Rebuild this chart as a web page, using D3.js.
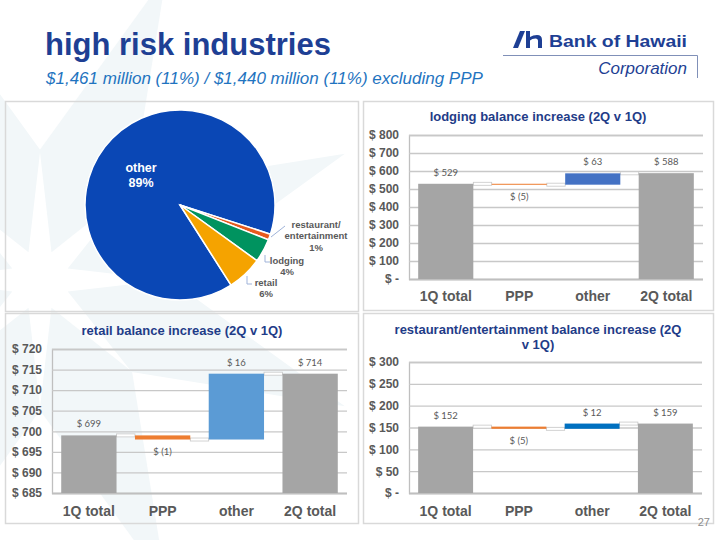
<!DOCTYPE html>
<html>
<head>
<meta charset="utf-8">
<script src="https://cdn.jsdelivr.net/npm/d3@7"></script>
<style>
html,body{margin:0;padding:0;background:#fff;}
svg{display:block;font-family:"Liberation Sans",Arial,sans-serif;}
</style>
</head>
<body>
<svg id="chart" width="720" height="540"></svg>
<script>
// ---------------- data ----------------
const pieCategories = ["other", "restaurant/entertainment", "lodging", "retail"];
const piePercents = [89, 1, 4, 6];
const pieColors = ["#0A47B5", "#E65A1E", "#00935F", "#F5A300"];

const stepCategories = ["1Q total", "PPP", "other", "2Q total"];
const lodgingValues = [529, -5, 63, 588];
const retailValues = [699, -1, 16, 714];
const restaurantValues = [152, -5, 12, 159];

const lodgingTicks = [0, 100, 200, 300, 400, 500, 600, 700, 800];
const retailTicks = [685, 690, 695, 700, 705, 710, 715, 720];
const restaurantTicks = [0, 50, 100, 150, 200, 250, 300];

const titleText = "high risk industries";
const subtitleText = "$1,461 million (11%) / $1,440 million (11%) excluding PPP";

// ---------------- page ----------------
const svg = d3.select("#chart");
const GRAY = "#595959";

// very faint watermark star
const wm = svg.append("g").attr("fill", "#F2F7F9");
const wc = [40, 280];
d3.range(8).forEach(i => {
  const a = i * Math.PI / 4 + Math.PI / 8;
  const L = 330, W = 50, m = 120;
  const tip = [wc[0] + L * Math.sin(a), wc[1] - L * Math.cos(a)];
  const base = [wc[0] + 30 * Math.sin(a), wc[1] - 30 * Math.cos(a)];
  const mid = [wc[0] + m * Math.sin(a), wc[1] - m * Math.cos(a)];
  const px = Math.cos(a), py = Math.sin(a);
  wm.append("path").attr("d", d3.line()([base, [mid[0] + W * px, mid[1] + W * py], tip, [mid[0] - W * px, mid[1] - W * py]]) + "Z");
});

svg.append("text").attr("x", 45).attr("y", 55).attr("font-size", 31).attr("font-weight", "bold")
  .attr("fill", "#1E3F94").text(titleText);
svg.append("text").attr("x", 46).attr("y", 84).attr("font-size", 17).attr("font-style", "italic")
  .attr("fill", "#1F74C0").text(subtitleText);

// logo
const logo = svg.append("g");
logo.append("path").attr("d", "M513,48 L518,48 L525,31 L520,31 Z").attr("fill", "#1E3F94");
logo.append("path").attr("d", "M526,31 L530,31 L530,37 Q533,35 537,35 Q542,35 542,40 L542,48 L538,48 L538,41 Q538,38.5 535.5,38.5 Q532,38.5 530,40.5 L530,48 L526,48 Z").attr("fill", "#1E3F94");
logo.append("text").attr("x", 549).attr("y", 47).attr("font-size", 17).attr("font-weight", "bold")
  .attr("fill", "#1E3F94").attr("textLength", 138).attr("lengthAdjust", "spacingAndGlyphs").text("Bank of Hawaii");
logo.append("path").attr("d", "M503,55.5 L697.5,55.5 L697.5,78").attr("fill", "none").attr("stroke", "#8090B8").attr("stroke-width", 1);
logo.append("text").attr("x", 687).attr("y", 74).attr("text-anchor", "end").attr("font-size", 17)
  .attr("font-style", "italic").attr("fill", "#1E3F94").text("Corporation");

// panels
const panels = [[5, 101, 353, 210], [363, 101, 350, 209], [5, 313, 353, 210], [363, 313, 350, 210]];
svg.append("g").selectAll("rect").data(panels).join("rect")
  .attr("x", d => d[0] + 0.5).attr("y", d => d[1] + 0.5).attr("width", d => d[2]).attr("height", d => d[3])
  .attr("fill", "none").attr("stroke", "#D9D9D9").attr("stroke-width", 1.5);

// ---------------- pie ----------------
const pc = [180, 205], R = 95;
const startA = 147.5 * Math.PI / 180;
const pie = d3.pie().sort(null).value(d => d).startAngle(startA).endAngle(startA + 2 * Math.PI);
const arcs = pie(piePercents);
const arc = d3.arc().innerRadius(0).outerRadius(R);
const pg = svg.append("g").attr("transform", `translate(${pc[0]},${pc[1]})`);
pg.selectAll("path").data(arcs).join("path")
  .attr("d", arc).attr("fill", (d, i) => pieColors[i]).attr("stroke", "#fff").attr("stroke-width", 1.5);

svg.append("text").attr("x", 141).attr("y", 172).attr("text-anchor", "middle").attr("font-size", 12.5)
  .attr("font-weight", "bold").attr("fill", "#fff").text(pieCategories[0]);
svg.append("text").attr("x", 141).attr("y", 187).attr("text-anchor", "middle").attr("font-size", 12.5)
  .attr("font-weight", "bold").attr("fill", "#fff").text(piePercents[0] + "%");

const small = [
  {lines: ["restaurant/", "entertainment", piePercents[1] + "%"], x: 316, y: 228, lead: [[271, 237], [285, 226]]},
  {lines: [pieCategories[2], piePercents[2] + "%"], x: 287, y: 264, lead: [[265, 255], [265, 262], [270, 262]]},
  {lines: [pieCategories[3], piePercents[3] + "%"], x: 266, y: 286, lead: [[247, 276], [247, 284], [252, 284]]}
];
small.forEach(s => {
  const t = svg.append("text").attr("text-anchor", "middle").attr("font-size", 9.5).attr("font-weight", "bold").attr("fill", GRAY);
  s.lines.forEach((l, i) => t.append("tspan").attr("x", s.x).attr("y", s.y + i * 11.3).text(l));
  svg.append("path").attr("d", d3.line()(s.lead)).attr("fill", "none").attr("stroke", "#9FB3D9").attr("stroke-width", 1);
});

// ---------------- step charts ----------------
function stepChart(o) {
  const g = svg.append("g");
  const x = d3.scaleBand().domain(stepCategories).range([o.left, o.right]).paddingInner(0.25).paddingOuter(0.125);
  const y = d3.scaleLinear().domain([o.ticks[0], o.ticks[o.ticks.length - 1]]).range([o.bottom, o.top]);
  const ya = d3.axisLeft(y).tickValues(o.ticks).tickSize(-(o.right - o.left)).tickPadding(10)
    .tickFormat(v => v === 0 ? "$ -" : "$ " + v);
  const yg = g.append("g").attr("transform", `translate(${o.left},0)`).call(ya);
  yg.select(".domain").attr("stroke", "#BFBFBF").attr("stroke-width", 1.3);
  yg.selectAll(".tick line").attr("stroke", "#C8C8C8").attr("stroke-width", 1.3);
  yg.selectAll(".tick text").attr("font-size", 12).attr("font-weight", "bold").attr("fill", GRAY)
    .attr("font-family", "'Liberation Sans',Arial,sans-serif");
  const xa = d3.axisBottom(x).tickSize(0).tickPadding(o.xpad);
  const xg = g.append("g").attr("transform", `translate(0,${o.bottom})`).call(xa);
  xg.select(".domain").attr("stroke", "#BFBFBF").attr("stroke-width", 1.3).attr("d", `M${o.left},0.5H${o.right}`);
  xg.selectAll(".tick text").attr("font-size", 14).attr("font-weight", "bold").attr("fill", GRAY)
    .attr("font-family", "'Liberation Sans',Arial,sans-serif");

  const y0 = o.ticks[0];
  const segs = [];
  let level = o.values[0];
  o.values.forEach((v, i) => {
    if (i === 0 || i === o.values.length - 1) {
      segs.push({cat: stepCategories[i], lo: y0, hi: v, v, total: true, end: v});
      level = v;
    } else {
      const start = level, end = level + v;
      segs.push({cat: stepCategories[i], lo: Math.min(start, end), hi: Math.max(start, end), v, total: false, end});
      level = end;
    }
  });
  const colors = ["#A5A5A5", "#ED7D31", o.otherColor, "#A5A5A5"];
  segs.forEach((s, i) => {
    if (i === segs.length - 1) return;
    const xl = x(s.cat) + x.bandwidth(), xr = x(segs[i + 1].cat);
    g.append("rect").attr("x", xl).attr("y", y(s.end) - 1.5).attr("width", xr - xl).attr("height", 3)
      .attr("fill", "#fff").attr("stroke", "#C8C8C8").attr("stroke-width", 0.8);
  });
  g.selectAll("rect.bar").data(segs).join("rect").attr("class", "bar")
    .attr("x", d => x(d.cat)).attr("width", x.bandwidth())
    .attr("y", d => y(d.hi)).attr("height", d => Math.max(1, y(d.lo) - y(d.hi)))
    .attr("fill", (d, i) => colors[i]);
  g.selectAll("text.lbl").data(segs).join("text").attr("class", "lbl")
    .attr("x", d => x(d.cat) + x.bandwidth() / 2)
    .attr("y", d => d.v < 0 ? y(d.lo) + 15 : y(d.hi) - 8)
    .attr("text-anchor", "middle").attr("font-size", 9.5).attr("fill", GRAY)
    .attr("font-family", "Lato,'Open Sans',sans-serif")
    .text(d => d.v < 0 ? "$ (" + Math.abs(d.v) + ")" : "$ " + d.v);
  const t = g.append("text").attr("text-anchor", "middle").attr("font-size", 13).attr("font-weight", "bold").attr("fill", "#1F3C88");
  o.title.forEach((l, i) => t.append("tspan").attr("x", o.tx).attr("y", o.ty + i * 15).text(l));
}

stepChart({values: lodgingValues, ticks: lodgingTicks, left: 409, right: 703, top: 135, bottom: 279,
  otherColor: "#4472C4", xpad: 12, title: ["lodging balance increase (2Q v 1Q)"], tx: 538, ty: 121});
stepChart({values: retailValues, ticks: retailTicks, left: 52, right: 347, top: 349, bottom: 493,
  otherColor: "#5B9BD5", xpad: 13, title: ["retail balance increase (2Q v 1Q)"], tx: 182, ty: 335});
stepChart({values: restaurantValues, ticks: restaurantTicks, left: 409, right: 702, top: 362, bottom: 493,
  otherColor: "#0070C0", xpad: 13, title: ["restaurant/entertainment balance increase (2Q", "v 1Q)"], tx: 538, ty: 334});

svg.append("text").attr("x", 710).attr("y", 526).attr("text-anchor", "end").attr("font-size", 11)
  .attr("fill", "#8C8C8C").text("27");
</script>
</body>
</html>
